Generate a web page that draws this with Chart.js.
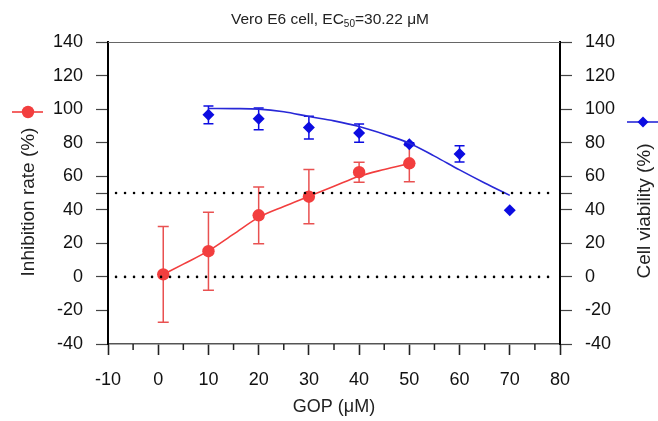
<!DOCTYPE html>
<html><head><meta charset="utf-8">
<script src="https://cdn.jsdelivr.net/npm/chart.js@4"></script>
<style>html,body{margin:0;padding:0;background:#fff}#wrap{width:658px;height:421px}</style>
</head><body><div id="wrap"><canvas id="c" width="658" height="421"></canvas></div>
<script>
// ---- data ----
const inhibConc = [1, 10, 20, 30, 40, 50];
const inhibMean = [1.5, 15.3, 36.7, 47.8, 62.4, 67.7];
const inhibErr  = [28.5, 23.2, 16.9, 16.2, 6.0, 11.0];

const viabConc = [10, 20, 30, 40, 50, 60, 70];
const viabMean = [96.6, 94.2, 89.0, 85.7, 79.1, 73.3, 39.7];
const viabErr  = [5.3, 6.5, 6.8, 5.5, 0.8, 4.8, 0];

const inhibFitX = [1, 5, 10, 15, 20, 25, 30, 35, 40, 45, 50];
const inhibFitY = [1.4, 7.6, 15.5, 25.5, 35.5, 42.0, 48.0, 54.0, 60.0, 64.0, 67.5];

const viabFitX = [10, 15, 20, 25, 30, 35, 40, 45, 50, 55, 60, 65, 70];
const viabFitY = [100.4, 100.3, 100.0, 98.4, 95.6, 93.0, 89.6, 85.0, 79.7, 72.0, 63.8, 56.0, 48.6];

const refLineX = [-8.4, 78.6];
const refLevels = [0, 50];

const xTickMin = -10, xTickMax = 80, xStep = 10;
const yTickMin = -40, yTickMax = 140, yStep = 20;
const xMinorTicks = [-5, 5, 15, 25, 35, 45, 55, 65, 75];
const yExtraTick = 50;

const titleMain = 'Vero E6 cell, EC';
const titleSub = '50';
const titleEnd = '=30.22 μM';
const xTitle = 'GOP (μM)';
const yLeftTitle = 'Inhibition rate (%)';
const yRightTitle = 'Cell viability (%)';

const RED = 'rgb(242,62,62)';
const RED_ERR = 'rgba(232,72,72,0.95)';
const BLUE = 'rgb(12,12,225)';
const BLUE_LINE = 'rgb(40,40,215)';
const FONT = '"Liberation Sans", Arial, sans-serif';

const pts = (xs, ys) => xs.map((x, i) => ({x, y: ys[i]}));

const datasets = [];
refLevels.forEach(lv => datasets.push({
  data: pts(refLineX, refLineX.map(() => lv)), showLine: true, pointRadius: 0,
  borderColor: '#000', borderWidth: 2.6, borderDash: [0, 9], borderCapStyle: 'round', yAxisID: 'y'
}));
datasets.push({data: pts(inhibFitX, inhibFitY), showLine: true, pointRadius: 0, borderColor: RED, borderWidth: 1.6, cubicInterpolationMode: 'monotone', yAxisID: 'y'});
datasets.push({data: pts(viabFitX, viabFitY), showLine: true, pointRadius: 0, borderColor: BLUE_LINE, borderWidth: 1.6, cubicInterpolationMode: 'monotone', yAxisID: 'y'});
datasets.push({data: pts(inhibConc, inhibMean), pointStyle: 'circle', pointRadius: 6.2, backgroundColor: RED, borderColor: RED, borderWidth: 0, yAxisID: 'y'});
datasets.push({data: pts(viabConc, viabMean), pointStyle: 'rectRot', pointRadius: 6, backgroundColor: BLUE, borderColor: BLUE, borderWidth: 0, yAxisID: 'y'});

function errBars(ctx, xs, ys, es, xs_, ys_, color, cap) {
  ctx.save();
  ctx.strokeStyle = color; ctx.lineWidth = 1.5;
  xs.forEach((x, i) => {
    if (!es[i]) return;
    const px = xs_.getPixelForValue(x);
    const top = ys_.getPixelForValue(ys[i] + es[i]);
    const bot = ys_.getPixelForValue(ys[i] - es[i]);
    ctx.beginPath();
    ctx.moveTo(px, top); ctx.lineTo(px, bot);
    ctx.moveTo(px - cap, top); ctx.lineTo(px + cap, top);
    ctx.moveTo(px - cap, bot); ctx.lineTo(px + cap, bot);
    ctx.stroke();
  });
  ctx.restore();
}

const deco = {
  id: 'deco',
  beforeDatasetsDraw(chart) {
    const {ctx, scales} = chart;
    errBars(ctx, inhibConc, inhibMean, inhibErr, scales.x, scales.y, RED_ERR, 5.5);
    errBars(ctx, viabConc, viabMean, viabErr, scales.x, scales.y, BLUE, 5);
  },
  afterDraw(chart) {
    const {ctx, chartArea: ca, scales} = chart;
    ctx.save();
    // top frame line
    ctx.strokeStyle = '#666'; ctx.lineWidth = 1;
    ctx.beginPath(); ctx.moveTo(ca.left, ca.top + 0.5); ctx.lineTo(ca.right, ca.top + 0.5); ctx.stroke();
    // minor x ticks
    ctx.strokeStyle = '#222'; ctx.lineWidth = 1.5;
    xMinorTicks.forEach(v => {
      const px = scales.x.getPixelForValue(v);
      ctx.beginPath(); ctx.moveTo(px, ca.bottom); ctx.lineTo(px, ca.bottom + 6); ctx.stroke();
    });
    // title
    ctx.fillStyle = '#222';
    ctx.textBaseline = 'alphabetic';
    const big = '15.5px ' + FONT, small = '10px ' + FONT;
    ctx.font = big; const w1 = ctx.measureText(titleMain).width, w3 = ctx.measureText(titleEnd).width;
    ctx.font = small; const w2 = ctx.measureText(titleSub).width;
    let tx = (ca.left + ca.right) / 2 - (w1 + w2 + w3) / 2 - 4;
    const ty = 24;
    ctx.textAlign = 'left';
    ctx.font = big; ctx.fillText(titleMain, tx, ty); tx += w1;
    ctx.font = small; ctx.fillText(titleSub, tx, ty + 3); tx += w2;
    ctx.font = big; ctx.fillText(titleEnd, tx, ty);
    // x title
    ctx.font = '18px ' + FONT; ctx.textAlign = 'center'; ctx.textBaseline = 'middle';
    ctx.fillText(xTitle, (ca.left + ca.right) / 2, 407);
    // left title
    ctx.font = '19px ' + FONT;
    ctx.save(); ctx.translate(29, 202); ctx.rotate(-Math.PI / 2);
    ctx.fillText(yLeftTitle, 0, 0); ctx.restore();
    // right title
    ctx.save(); ctx.translate(645, 211); ctx.rotate(-Math.PI / 2);
    ctx.fillText(yRightTitle, 0, 0); ctx.restore();
    // legend symbols
    ctx.strokeStyle = RED; ctx.lineWidth = 1.6;
    ctx.beginPath(); ctx.moveTo(12, 112); ctx.lineTo(43, 112); ctx.stroke();
    ctx.fillStyle = RED; ctx.beginPath(); ctx.arc(28, 112, 6.2, 0, Math.PI * 2); ctx.fill();
    ctx.strokeStyle = BLUE_LINE;
    ctx.beginPath(); ctx.moveTo(627, 122); ctx.lineTo(658, 122); ctx.stroke();
    ctx.fillStyle = BLUE; ctx.beginPath();
    ctx.moveTo(643, 116.5); ctx.lineTo(648.5, 122); ctx.lineTo(643, 127.5); ctx.lineTo(637.5, 122); ctx.closePath(); ctx.fill();
    ctx.restore();
  }
};

const yCommon = {
  type: 'linear', min: yTickMin, max: yTickMax,
  afterBuildTicks(s) {
    const t = [];
    for (let v = yTickMin; v <= yTickMax; v += yStep) t.push({value: v});
    t.push({value: yExtraTick});
    t.sort((a, b) => a.value - b.value);
    s.ticks = t;
  },
  ticks: {
    color: '#111', font: {family: FONT, size: 18}, padding: 13,
    callback: v => (v === yExtraTick ? '' : v)
  },
  grid: {drawOnChartArea: false, drawTicks: true, tickLength: 12, tickWidth: 1.2, tickColor: '#444'},
  border: {display: true, color: '#000', width: 2},
  title: {display: false}
};

new Chart(document.getElementById('c'), {
  type: 'scatter',
  data: {datasets},
  options: {
    responsive: false, animation: false, devicePixelRatio: 1,
    layout: {padding: {top: 42, left: 0, right: 0, bottom: 0}},
    plugins: {legend: {display: false}, tooltip: {enabled: false}, title: {display: false}},
    scales: {
      x: {
        type: 'linear', position: 'bottom', min: xTickMin, max: xTickMax,
        ticks: {stepSize: xStep, color: '#111', font: {family: FONT, size: 18}, padding: 14},
        grid: {drawOnChartArea: false, drawTicks: true, tickLength: 11, tickWidth: 1.6, tickColor: '#222'},
        border: {display: true, color: '#555', width: 1.5},
        afterFit(s) { s.height = 77; }
      },
      y: Object.assign({}, yCommon, {position: 'left', afterFit(s) { s.width = 108; }}),
      y2: Object.assign({}, yCommon, {position: 'right', afterFit(s) { s.width = 98; }})
    }
  },
  plugins: [deco]
});
</script>
</body></html>
